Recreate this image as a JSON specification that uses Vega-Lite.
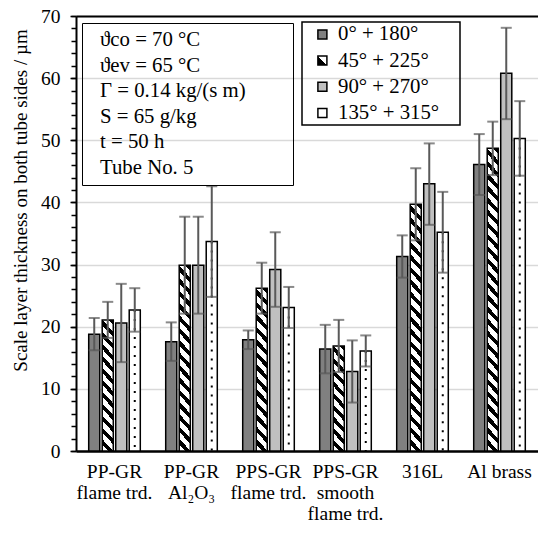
{
"$schema":"https://vega.github.io/schema/vega-lite/v6.json",
"width":462,"height":435,
"autosize":{"type":"none"},
"padding":{"left":76,"top":16,"right":0,"bottom":85},
"background":"white",
"config":{"font":"Liberation Serif","view":{"stroke":"#bfbfbf","strokeWidth":1}},
"datasets":{
"main":[
{"material":"PP-GR|flame trd.","series":"0° + 180°","value":18.8,"lo":16.2,"hi":21.4},
{"material":"PP-GR|flame trd.","series":"45° + 225°","value":21.1,"lo":18.2,"hi":24.0},
{"material":"PP-GR|flame trd.","series":"90° + 270°","value":20.6,"lo":14.3,"hi":26.9},
{"material":"PP-GR|flame trd.","series":"135° + 315°","value":22.7,"lo":19.2,"hi":26.2},
{"material":"PP-GR|Al₂O₃","series":"0° + 180°","value":17.6,"lo":14.5,"hi":20.7},
{"material":"PP-GR|Al₂O₃","series":"45° + 225°","value":29.9,"lo":22.1,"hi":37.7},
{"material":"PP-GR|Al₂O₃","series":"90° + 270°","value":29.9,"lo":22.1,"hi":37.7},
{"material":"PP-GR|Al₂O₃","series":"135° + 315°","value":33.7,"lo":24.8,"hi":42.6},
{"material":"PPS-GR|flame trd.","series":"0° + 180°","value":17.9,"lo":16.4,"hi":19.4},
{"material":"PPS-GR|flame trd.","series":"45° + 225°","value":26.2,"lo":22.1,"hi":30.3},
{"material":"PPS-GR|flame trd.","series":"90° + 270°","value":29.2,"lo":23.2,"hi":35.2},
{"material":"PPS-GR|flame trd.","series":"135° + 315°","value":23.1,"lo":19.8,"hi":26.4},
{"material":"PPS-GR|smooth|flame trd.","series":"0° + 180°","value":16.4,"lo":12.5,"hi":20.3},
{"material":"PPS-GR|smooth|flame trd.","series":"45° + 225°","value":16.9,"lo":12.7,"hi":21.1},
{"material":"PPS-GR|smooth|flame trd.","series":"90° + 270°","value":12.8,"lo":7.8,"hi":17.8},
{"material":"PPS-GR|smooth|flame trd.","series":"135° + 315°","value":16.1,"lo":13.6,"hi":18.6},
{"material":"316L","series":"0° + 180°","value":31.3,"lo":27.9,"hi":34.7},
{"material":"316L","series":"45° + 225°","value":39.7,"lo":33.9,"hi":45.5},
{"material":"316L","series":"90° + 270°","value":43.0,"lo":36.4,"hi":49.5},
{"material":"316L","series":"135° + 315°","value":35.2,"lo":28.7,"hi":41.7},
{"material":"Al brass","series":"0° + 180°","value":46.1,"lo":41.2,"hi":51.0},
{"material":"Al brass","series":"45° + 225°","value":48.7,"lo":44.4,"hi":53.0},
{"material":"Al brass","series":"90° + 270°","value":60.8,"lo":53.4,"hi":68.1},
{"material":"Al brass","series":"135° + 315°","value":50.3,"lo":44.3,"hi":56.3}
],
"params":[
{"line":"ϑco = 70 °C"},
{"line":"ϑev = 65 °C"},
{"line":"Γ = 0.14 kg/(s m)"},
{"line":"S = 65 g/kg"},
{"line":"t = 50 h"},
{"line":"Tube No. 5"}
]
},
"resolve":{"axis":{"x":"independent","y":"independent"}},
"layer":[
{
"data":{"name":"main"},
"mark":{"type":"bar","stroke":"black","strokeWidth":1.5},
"encoding":{
"x":{"field":"material","type":"nominal","scale":{"domain":["PP-GR|flame trd.","PP-GR|Al₂O₃","PPS-GR|flame trd.","PPS-GR|smooth|flame trd.","316L","Al brass"],"paddingInner":0.33,"paddingOuter":0.165},
"axis":{"title":null,"orient":"bottom","labelExpr":"split(datum.label, '|')","labelAngle":0,"ticks":false,"domainColor":"black","domainWidth":2.5,"labelFont":"Liberation Serif","labelFontSize":19.5,"labelLineHeight":21,"labelPadding":11,"labelColor":"black","labelOverlap":false,"labelBound":false,"labelFlush":false,"labelLimit":300,"grid":false,"labelBaseline":"top"}},
"xOffset":{"field":"series","type":"nominal","scale":{"domain":["0° + 180°","45° + 225°","90° + 270°","135° + 315°"],"paddingInner":0.18,"paddingOuter":0}},
"y":{"field":"value","type":"quantitative","scale":{"domain":[0,70],"nice":false},
"axis":{"title":"Scale layer thickness on both tube sides / µm","values":[0,10,20,30,40,50,60,70],"grid":true,"gridColor":"#d9d9d9","gridWidth":1.5,"domainColor":"black","domainWidth":2,"tickColor":"black","tickSize":6,"tickWidth":1.5,"labelPadding":10,"labelFont":"Liberation Serif","labelFontSize":19.5,"labelColor":"black","titleFont":"Liberation Serif","titleFontSize":19,"titleFontWeight":"normal","titleColor":"black","titleX":-46,"titleY":184,"titleBaseline":"bottom","titleAngle":270,"titleAlign":"center"}},
"fill":{
"condition":[
{"test":"datum.series === '45° + 225°' && datum.material === 'PP-GR|flame trd.'","value":{"gradient":"linear","x1":1,"y1":0,"x2":0.901,"y2":1.0824,"stops":[
{"offset":0,"color":"#000"},{"offset":0.0375,"color":"#000"},{"offset":0.0375,"color":"#fff"},{"offset":0.0833,"color":"#fff"},
{"offset":0.0833,"color":"#000"},{"offset":0.1208,"color":"#000"},{"offset":0.1208,"color":"#fff"},{"offset":0.1667,"color":"#fff"},
{"offset":0.1667,"color":"#000"},{"offset":0.2042,"color":"#000"},{"offset":0.2042,"color":"#fff"},{"offset":0.25,"color":"#fff"},
{"offset":0.25,"color":"#000"},{"offset":0.2875,"color":"#000"},{"offset":0.2875,"color":"#fff"},{"offset":0.3333,"color":"#fff"},
{"offset":0.3333,"color":"#000"},{"offset":0.3708,"color":"#000"},{"offset":0.3708,"color":"#fff"},{"offset":0.4167,"color":"#fff"},
{"offset":0.4167,"color":"#000"},{"offset":0.4542,"color":"#000"},{"offset":0.4542,"color":"#fff"},{"offset":0.5,"color":"#fff"},
{"offset":0.5,"color":"#000"},{"offset":0.5375,"color":"#000"},{"offset":0.5375,"color":"#fff"},{"offset":0.5833,"color":"#fff"},
{"offset":0.5833,"color":"#000"},{"offset":0.6208,"color":"#000"},{"offset":0.6208,"color":"#fff"},{"offset":0.6667,"color":"#fff"},
{"offset":0.6667,"color":"#000"},{"offset":0.7042,"color":"#000"},{"offset":0.7042,"color":"#fff"},{"offset":0.75,"color":"#fff"},
{"offset":0.75,"color":"#000"},{"offset":0.7875,"color":"#000"},{"offset":0.7875,"color":"#fff"},{"offset":0.8333,"color":"#fff"},
{"offset":0.8333,"color":"#000"},{"offset":0.8708,"color":"#000"},{"offset":0.8708,"color":"#fff"},{"offset":0.9167,"color":"#fff"},
{"offset":0.9167,"color":"#000"},{"offset":0.9542,"color":"#000"},{"offset":0.9542,"color":"#fff"},{"offset":1,"color":"#fff"}]}},
{"test":"datum.series === '45° + 225°' && datum.material === 'PP-GR|Al₂O₃'","value":{"gradient":"linear","x1":1,"y1":0,"x2":0.9315,"y2":1.0602,"stops":[
{"offset":0,"color":"#000"},{"offset":0.0281,"color":"#000"},{"offset":0.0281,"color":"#fff"},{"offset":0.0625,"color":"#fff"},
{"offset":0.0625,"color":"#000"},{"offset":0.0906,"color":"#000"},{"offset":0.0906,"color":"#fff"},{"offset":0.125,"color":"#fff"},
{"offset":0.125,"color":"#000"},{"offset":0.1531,"color":"#000"},{"offset":0.1531,"color":"#fff"},{"offset":0.1875,"color":"#fff"},
{"offset":0.1875,"color":"#000"},{"offset":0.2156,"color":"#000"},{"offset":0.2156,"color":"#fff"},{"offset":0.25,"color":"#fff"},
{"offset":0.25,"color":"#000"},{"offset":0.2781,"color":"#000"},{"offset":0.2781,"color":"#fff"},{"offset":0.3125,"color":"#fff"},
{"offset":0.3125,"color":"#000"},{"offset":0.3406,"color":"#000"},{"offset":0.3406,"color":"#fff"},{"offset":0.375,"color":"#fff"},
{"offset":0.375,"color":"#000"},{"offset":0.4031,"color":"#000"},{"offset":0.4031,"color":"#fff"},{"offset":0.4375,"color":"#fff"},
{"offset":0.4375,"color":"#000"},{"offset":0.4656,"color":"#000"},{"offset":0.4656,"color":"#fff"},{"offset":0.5,"color":"#fff"},
{"offset":0.5,"color":"#000"},{"offset":0.5281,"color":"#000"},{"offset":0.5281,"color":"#fff"},{"offset":0.5625,"color":"#fff"},
{"offset":0.5625,"color":"#000"},{"offset":0.5906,"color":"#000"},{"offset":0.5906,"color":"#fff"},{"offset":0.625,"color":"#fff"},
{"offset":0.625,"color":"#000"},{"offset":0.6531,"color":"#000"},{"offset":0.6531,"color":"#fff"},{"offset":0.6875,"color":"#fff"},
{"offset":0.6875,"color":"#000"},{"offset":0.7156,"color":"#000"},{"offset":0.7156,"color":"#fff"},{"offset":0.75,"color":"#fff"},
{"offset":0.75,"color":"#000"},{"offset":0.7781,"color":"#000"},{"offset":0.7781,"color":"#fff"},{"offset":0.8125,"color":"#fff"},
{"offset":0.8125,"color":"#000"},{"offset":0.8406,"color":"#000"},{"offset":0.8406,"color":"#fff"},{"offset":0.875,"color":"#fff"},
{"offset":0.875,"color":"#000"},{"offset":0.9031,"color":"#000"},{"offset":0.9031,"color":"#fff"},{"offset":0.9375,"color":"#fff"},
{"offset":0.9375,"color":"#000"},{"offset":0.9656,"color":"#000"},{"offset":0.9656,"color":"#fff"},{"offset":1,"color":"#fff"}]}},
{"test":"datum.series === '45° + 225°' && datum.material === 'PPS-GR|flame trd.'","value":{"gradient":"linear","x1":1,"y1":0,"x2":0.9213,"y2":1.0679,"stops":[
{"offset":0,"color":"#000"},{"offset":0.0321,"color":"#000"},{"offset":0.0321,"color":"#fff"},{"offset":0.0714,"color":"#fff"},
{"offset":0.0714,"color":"#000"},{"offset":0.1036,"color":"#000"},{"offset":0.1036,"color":"#fff"},{"offset":0.1429,"color":"#fff"},
{"offset":0.1429,"color":"#000"},{"offset":0.175,"color":"#000"},{"offset":0.175,"color":"#fff"},{"offset":0.2143,"color":"#fff"},
{"offset":0.2143,"color":"#000"},{"offset":0.2464,"color":"#000"},{"offset":0.2464,"color":"#fff"},{"offset":0.2857,"color":"#fff"},
{"offset":0.2857,"color":"#000"},{"offset":0.3179,"color":"#000"},{"offset":0.3179,"color":"#fff"},{"offset":0.3571,"color":"#fff"},
{"offset":0.3571,"color":"#000"},{"offset":0.3893,"color":"#000"},{"offset":0.3893,"color":"#fff"},{"offset":0.4286,"color":"#fff"},
{"offset":0.4286,"color":"#000"},{"offset":0.4607,"color":"#000"},{"offset":0.4607,"color":"#fff"},{"offset":0.5,"color":"#fff"},
{"offset":0.5,"color":"#000"},{"offset":0.5321,"color":"#000"},{"offset":0.5321,"color":"#fff"},{"offset":0.5714,"color":"#fff"},
{"offset":0.5714,"color":"#000"},{"offset":0.6036,"color":"#000"},{"offset":0.6036,"color":"#fff"},{"offset":0.6429,"color":"#fff"},
{"offset":0.6429,"color":"#000"},{"offset":0.675,"color":"#000"},{"offset":0.675,"color":"#fff"},{"offset":0.7143,"color":"#fff"},
{"offset":0.7143,"color":"#000"},{"offset":0.7464,"color":"#000"},{"offset":0.7464,"color":"#fff"},{"offset":0.7857,"color":"#fff"},
{"offset":0.7857,"color":"#000"},{"offset":0.8179,"color":"#000"},{"offset":0.8179,"color":"#fff"},{"offset":0.8571,"color":"#fff"},
{"offset":0.8571,"color":"#000"},{"offset":0.8893,"color":"#000"},{"offset":0.8893,"color":"#fff"},{"offset":0.9286,"color":"#fff"},
{"offset":0.9286,"color":"#000"},{"offset":0.9607,"color":"#000"},{"offset":0.9607,"color":"#fff"},{"offset":1,"color":"#fff"}]}},
{"test":"datum.series === '45° + 225°' && datum.material === 'PPS-GR|smooth|flame trd.'","value":{"gradient":"linear","x1":1,"y1":0,"x2":0.8743,"y2":1.0999,"stops":[
{"offset":0,"color":"#000"},{"offset":0.045,"color":"#000"},{"offset":0.045,"color":"#fff"},{"offset":0.1,"color":"#fff"},
{"offset":0.1,"color":"#000"},{"offset":0.145,"color":"#000"},{"offset":0.145,"color":"#fff"},{"offset":0.2,"color":"#fff"},
{"offset":0.2,"color":"#000"},{"offset":0.245,"color":"#000"},{"offset":0.245,"color":"#fff"},{"offset":0.3,"color":"#fff"},
{"offset":0.3,"color":"#000"},{"offset":0.345,"color":"#000"},{"offset":0.345,"color":"#fff"},{"offset":0.4,"color":"#fff"},
{"offset":0.4,"color":"#000"},{"offset":0.445,"color":"#000"},{"offset":0.445,"color":"#fff"},{"offset":0.5,"color":"#fff"},
{"offset":0.5,"color":"#000"},{"offset":0.545,"color":"#000"},{"offset":0.545,"color":"#fff"},{"offset":0.6,"color":"#fff"},
{"offset":0.6,"color":"#000"},{"offset":0.645,"color":"#000"},{"offset":0.645,"color":"#fff"},{"offset":0.7,"color":"#fff"},
{"offset":0.7,"color":"#000"},{"offset":0.745,"color":"#000"},{"offset":0.745,"color":"#fff"},{"offset":0.8,"color":"#fff"},
{"offset":0.8,"color":"#000"},{"offset":0.845,"color":"#000"},{"offset":0.845,"color":"#fff"},{"offset":0.9,"color":"#fff"},
{"offset":0.9,"color":"#000"},{"offset":0.945,"color":"#000"},{"offset":0.945,"color":"#fff"},{"offset":1,"color":"#fff"}]}},
{"test":"datum.series === '45° + 225°' && datum.material === '316L'","value":{"gradient":"linear","x1":1,"y1":0,"x2":0.9491,"y2":1.0462,"stops":[
{"offset":0,"color":"#000"},{"offset":0.0214,"color":"#000"},{"offset":0.0214,"color":"#fff"},{"offset":0.0476,"color":"#fff"},
{"offset":0.0476,"color":"#000"},{"offset":0.069,"color":"#000"},{"offset":0.069,"color":"#fff"},{"offset":0.0952,"color":"#fff"},
{"offset":0.0952,"color":"#000"},{"offset":0.1167,"color":"#000"},{"offset":0.1167,"color":"#fff"},{"offset":0.1429,"color":"#fff"},
{"offset":0.1429,"color":"#000"},{"offset":0.1643,"color":"#000"},{"offset":0.1643,"color":"#fff"},{"offset":0.1905,"color":"#fff"},
{"offset":0.1905,"color":"#000"},{"offset":0.2119,"color":"#000"},{"offset":0.2119,"color":"#fff"},{"offset":0.2381,"color":"#fff"},
{"offset":0.2381,"color":"#000"},{"offset":0.2595,"color":"#000"},{"offset":0.2595,"color":"#fff"},{"offset":0.2857,"color":"#fff"},
{"offset":0.2857,"color":"#000"},{"offset":0.3071,"color":"#000"},{"offset":0.3071,"color":"#fff"},{"offset":0.3333,"color":"#fff"},
{"offset":0.3333,"color":"#000"},{"offset":0.3548,"color":"#000"},{"offset":0.3548,"color":"#fff"},{"offset":0.381,"color":"#fff"},
{"offset":0.381,"color":"#000"},{"offset":0.4024,"color":"#000"},{"offset":0.4024,"color":"#fff"},{"offset":0.4286,"color":"#fff"},
{"offset":0.4286,"color":"#000"},{"offset":0.45,"color":"#000"},{"offset":0.45,"color":"#fff"},{"offset":0.4762,"color":"#fff"},
{"offset":0.4762,"color":"#000"},{"offset":0.4976,"color":"#000"},{"offset":0.4976,"color":"#fff"},{"offset":0.5238,"color":"#fff"},
{"offset":0.5238,"color":"#000"},{"offset":0.5452,"color":"#000"},{"offset":0.5452,"color":"#fff"},{"offset":0.5714,"color":"#fff"},
{"offset":0.5714,"color":"#000"},{"offset":0.5929,"color":"#000"},{"offset":0.5929,"color":"#fff"},{"offset":0.619,"color":"#fff"},
{"offset":0.619,"color":"#000"},{"offset":0.6405,"color":"#000"},{"offset":0.6405,"color":"#fff"},{"offset":0.6667,"color":"#fff"},
{"offset":0.6667,"color":"#000"},{"offset":0.6881,"color":"#000"},{"offset":0.6881,"color":"#fff"},{"offset":0.7143,"color":"#fff"},
{"offset":0.7143,"color":"#000"},{"offset":0.7357,"color":"#000"},{"offset":0.7357,"color":"#fff"},{"offset":0.7619,"color":"#fff"},
{"offset":0.7619,"color":"#000"},{"offset":0.7833,"color":"#000"},{"offset":0.7833,"color":"#fff"},{"offset":0.8095,"color":"#fff"},
{"offset":0.8095,"color":"#000"},{"offset":0.831,"color":"#000"},{"offset":0.831,"color":"#fff"},{"offset":0.8571,"color":"#fff"},
{"offset":0.8571,"color":"#000"},{"offset":0.8786,"color":"#000"},{"offset":0.8786,"color":"#fff"},{"offset":0.9048,"color":"#fff"},
{"offset":0.9048,"color":"#000"},{"offset":0.9262,"color":"#000"},{"offset":0.9262,"color":"#fff"},{"offset":0.9524,"color":"#fff"},
{"offset":0.9524,"color":"#000"},{"offset":0.9738,"color":"#000"},{"offset":0.9738,"color":"#fff"},{"offset":1,"color":"#fff"}]}},
{"test":"datum.series === '45° + 225°' && datum.material === 'Al brass'","value":{"gradient":"linear","x1":1,"y1":0,"x2":0.9588,"y2":1.038,"stops":[
{"offset":0,"color":"#000"},{"offset":0.0173,"color":"#000"},{"offset":0.0173,"color":"#fff"},{"offset":0.0385,"color":"#fff"},
{"offset":0.0385,"color":"#000"},{"offset":0.0558,"color":"#000"},{"offset":0.0558,"color":"#fff"},{"offset":0.0769,"color":"#fff"},
{"offset":0.0769,"color":"#000"},{"offset":0.0942,"color":"#000"},{"offset":0.0942,"color":"#fff"},{"offset":0.1154,"color":"#fff"},
{"offset":0.1154,"color":"#000"},{"offset":0.1327,"color":"#000"},{"offset":0.1327,"color":"#fff"},{"offset":0.1538,"color":"#fff"},
{"offset":0.1538,"color":"#000"},{"offset":0.1712,"color":"#000"},{"offset":0.1712,"color":"#fff"},{"offset":0.1923,"color":"#fff"},
{"offset":0.1923,"color":"#000"},{"offset":0.2096,"color":"#000"},{"offset":0.2096,"color":"#fff"},{"offset":0.2308,"color":"#fff"},
{"offset":0.2308,"color":"#000"},{"offset":0.2481,"color":"#000"},{"offset":0.2481,"color":"#fff"},{"offset":0.2692,"color":"#fff"},
{"offset":0.2692,"color":"#000"},{"offset":0.2865,"color":"#000"},{"offset":0.2865,"color":"#fff"},{"offset":0.3077,"color":"#fff"},
{"offset":0.3077,"color":"#000"},{"offset":0.325,"color":"#000"},{"offset":0.325,"color":"#fff"},{"offset":0.3462,"color":"#fff"},
{"offset":0.3462,"color":"#000"},{"offset":0.3635,"color":"#000"},{"offset":0.3635,"color":"#fff"},{"offset":0.3846,"color":"#fff"},
{"offset":0.3846,"color":"#000"},{"offset":0.4019,"color":"#000"},{"offset":0.4019,"color":"#fff"},{"offset":0.4231,"color":"#fff"},
{"offset":0.4231,"color":"#000"},{"offset":0.4404,"color":"#000"},{"offset":0.4404,"color":"#fff"},{"offset":0.4615,"color":"#fff"},
{"offset":0.4615,"color":"#000"},{"offset":0.4788,"color":"#000"},{"offset":0.4788,"color":"#fff"},{"offset":0.5,"color":"#fff"},
{"offset":0.5,"color":"#000"},{"offset":0.5173,"color":"#000"},{"offset":0.5173,"color":"#fff"},{"offset":0.5385,"color":"#fff"},
{"offset":0.5385,"color":"#000"},{"offset":0.5558,"color":"#000"},{"offset":0.5558,"color":"#fff"},{"offset":0.5769,"color":"#fff"},
{"offset":0.5769,"color":"#000"},{"offset":0.5942,"color":"#000"},{"offset":0.5942,"color":"#fff"},{"offset":0.6154,"color":"#fff"},
{"offset":0.6154,"color":"#000"},{"offset":0.6327,"color":"#000"},{"offset":0.6327,"color":"#fff"},{"offset":0.6538,"color":"#fff"},
{"offset":0.6538,"color":"#000"},{"offset":0.6712,"color":"#000"},{"offset":0.6712,"color":"#fff"},{"offset":0.6923,"color":"#fff"},
{"offset":0.6923,"color":"#000"},{"offset":0.7096,"color":"#000"},{"offset":0.7096,"color":"#fff"},{"offset":0.7308,"color":"#fff"},
{"offset":0.7308,"color":"#000"},{"offset":0.7481,"color":"#000"},{"offset":0.7481,"color":"#fff"},{"offset":0.7692,"color":"#fff"},
{"offset":0.7692,"color":"#000"},{"offset":0.7865,"color":"#000"},{"offset":0.7865,"color":"#fff"},{"offset":0.8077,"color":"#fff"},
{"offset":0.8077,"color":"#000"},{"offset":0.825,"color":"#000"},{"offset":0.825,"color":"#fff"},{"offset":0.8462,"color":"#fff"},
{"offset":0.8462,"color":"#000"},{"offset":0.8635,"color":"#000"},{"offset":0.8635,"color":"#fff"},{"offset":0.8846,"color":"#fff"},
{"offset":0.8846,"color":"#000"},{"offset":0.9019,"color":"#000"},{"offset":0.9019,"color":"#fff"},{"offset":0.9231,"color":"#fff"},
{"offset":0.9231,"color":"#000"},{"offset":0.9404,"color":"#000"},{"offset":0.9404,"color":"#fff"},{"offset":0.9615,"color":"#fff"},
{"offset":0.9615,"color":"#000"},{"offset":0.9788,"color":"#000"},{"offset":0.9788,"color":"#fff"},{"offset":1,"color":"#fff"}]}}
],
"field":"series","type":"nominal",
"scale":{"domain":["0° + 180°","45° + 225°","90° + 270°","135° + 315°"],"range":["#808080",{"expr":"{gradient: 'linear', x1: 1, y1: 0, x2: 0.001, y2: 1, stops: [{offset: 0, color: '#fff'}, {offset: 0.5, color: '#fff'}, {offset: 0.5, color: '#000'}, {offset: 1, color: '#000'}]}"},"#c0c0c0","#ffffff"]},
"legend":{"title":null,"orient":"none","legendX":226,"legendY":6,"direction":"vertical","symbolType":"square","symbolSize":81,"symbolStrokeColor":"black","symbolStrokeWidth":1.5,"symbolOffset":8,"labelOffset":5.2,"labelFont":"Liberation Serif","labelFontSize":20.8,"labelColor":"black","labelLimit":300,"rowPadding":4.2,"padding":2,"strokeColor":"black","labelExpr":"datum.label + '\u2002\u2009\u2009\u200b'",
"encode":{"legend":{"update":{"strokeWidth":{"value":1.5}}}}}
}
}
},
{
"data":{"name":"main"},
"transform":[{"filter":"datum.series === '135° + 315°'"}],
"mark":{"type":"rule","color":"black","strokeWidth":2,"strokeDash":[2,7]},
"encoding":{
"x":{"field":"material","type":"nominal","axis":null},
"xOffset":{"field":"series","type":"nominal"},
"y":{"field":"value","type":"quantitative","axis":null},
"y2":{"datum":0}
}
},
{
"data":{"name":"main"},
"mark":{"type":"rule","color":"#595959","strokeWidth":2},
"encoding":{
"x":{"field":"material","type":"nominal","axis":{"orient":"top","title":null,"labels":false,"ticks":false,"grid":false,"domainColor":"black","domainWidth":2}},
"xOffset":{"field":"series","type":"nominal"},
"y":{"field":"lo","type":"quantitative","axis":{"orient":"left","title":null,"labels":false,"grid":false,"domain":false,"ticks":true,"tickSize":5,"tickWidth":1.5,"tickColor":"black","values":[0,2,4,6,8,10,12,14,16,18,20,22,24,26,28,30,32,34,36,38,40,42,44,46,48,50,52,54,56,58,60,62,64,66,68,70]}},
"y2":{"field":"hi"}
}
},
{
"data":{"name":"main"},
"mark":{"type":"tick","color":"#595959","thickness":2,"size":11},
"encoding":{
"x":{"field":"material","type":"nominal","axis":null},
"xOffset":{"field":"series","type":"nominal"},
"y":{"field":"lo","type":"quantitative","axis":null}
}
},
{
"data":{"name":"main"},
"mark":{"type":"tick","color":"#595959","thickness":2,"size":11},
"encoding":{
"x":{"field":"material","type":"nominal","axis":null},
"xOffset":{"field":"series","type":"nominal"},
"y":{"field":"hi","type":"quantitative","axis":null}
}
},
{
"data":{"name":"params"},
"mark":{"type":"point","opacity":0,"size":0},
"encoding":{
"shape":{"field":"line","type":"nominal","sort":null,
"legend":{"title":null,"orient":"none","legendX":6,"legendY":7,"symbolSize":0,"symbolOpacity":0,"symbolStrokeWidth":0,"labelOffset":-9.8,"labelFont":"Liberation Serif","labelFontSize":20.8,"labelColor":"black","labelLimit":400,"rowPadding":3.5,"padding":7,"strokeColor":"black","labelExpr":"datum.label + '\u2003\u2002\u2009\u2009\u200b'",
"encode":{"legend":{"update":{"strokeWidth":{"value":1.5}}}}}}
}
}
]
}
